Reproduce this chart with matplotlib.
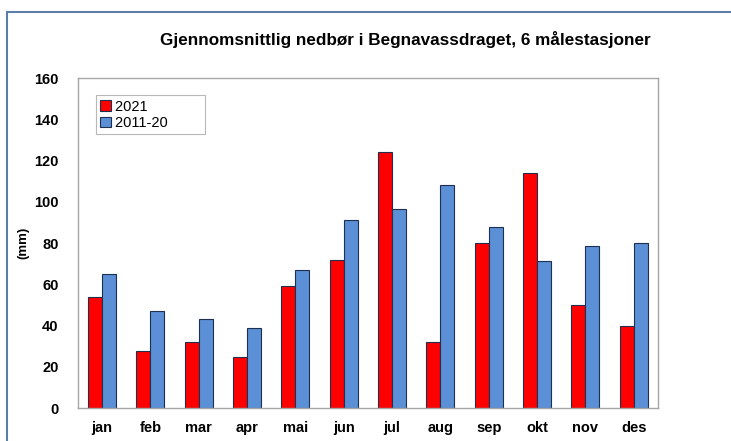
import matplotlib
matplotlib.use("Agg")
import matplotlib.pyplot as plt
import numpy as np
from matplotlib.patches import Rectangle

months = ["jan", "feb", "mar", "apr", "mai", "jun", "jul", "aug", "sep", "okt", "nov", "des"]
nedbor_2021 = [54, 27.5, 32, 24.5, 59, 72, 124, 32, 80, 114, 50, 40]
nedbor_2011_20 = [65, 47, 43, 39, 67, 91, 96.5, 108, 88, 71.5, 78.5, 80]
yticks = [0, 20, 40, 60, 80, 100, 120, 140, 160]

plt.rcParams["font.family"] = ["Liberation Sans", "DejaVu Sans"]

fig = plt.figure(figsize=(7.31, 4.41), dpi=100)
ax = fig.add_axes([0.1067, 0.0748, 0.7933, 0.7483])

x = np.arange(len(months))
w = 0.29
ax.bar(x - w / 2, nedbor_2021, w, color="#ff0000", edgecolor="#1f2f4f", linewidth=0.8, label="2021")
ax.bar(x + w / 2, nedbor_2011_20, w, color="#5b8fd6", edgecolor="#1f2f4f", linewidth=0.8, label="2011-20")

ax.set_xlim(-0.5, len(months) - 0.5)
ax.set_ylim(0, 160)
ax.set_yticks(yticks)
ax.set_xticks(x)
ax.set_xticklabels(months)
ax.tick_params(length=0, labelsize=10.5)
ax.tick_params(axis="y", pad=14)
ax.tick_params(axis="x", pad=9)
for lab in ax.get_xticklabels() + ax.get_yticklabels():
    lab.set_fontweight("bold")
for s in ax.spines.values():
    s.set_color("#a6a6a6")
    s.set_linewidth(1.0)

ax.set_ylabel("(mm)", fontsize=9.5, fontweight="bold")
ax.yaxis.set_label_coords(-0.083, 0.5)

leg = ax.legend(loc="upper left", bbox_to_anchor=(0.031, 0.948), fontsize=10.5,
                frameon=True, fancybox=False, handlelength=0.7, handleheight=0.7,
                handletextpad=0.3, borderpad=0.3, labelspacing=0.15,
                borderaxespad=0)
leg.get_frame().set_edgecolor("#a6a6a6")
leg.get_frame().set_linewidth(0.8)
# widen legend box a bit to the right like the reference
for t in leg.get_texts():
    t.set_text(t.get_text() + "        ")

fig.text(0.555, 0.91, "Gjennomsnittlig nedbør i Begnavassdraget, 6 målestasjoner",
         ha="center", va="center", fontsize=12.3, fontweight="bold")

# outer frame of the slide
fig.patches.append(Rectangle((7 / 731, -0.05), 1.1, 1 - 12 / 441 + 0.05,
                             transform=fig.transFigure, fill=False,
                             edgecolor="#5a7ea8", linewidth=1.5, clip_on=False))

fig.savefig("out.png", dpi=100)
